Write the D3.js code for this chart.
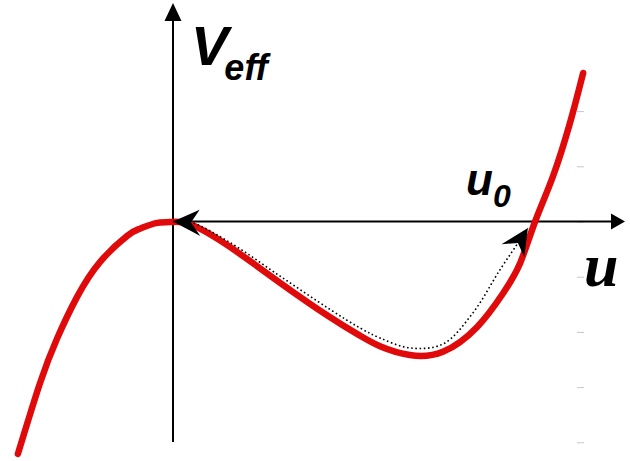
<!DOCTYPE html>
<html>
<head>
<meta charset="utf-8">
<script src="https://cdn.jsdelivr.net/npm/d3@7"></script>
<style>
  html, body { margin: 0; padding: 0; background: #fff; }
  svg { display: block; }
</style>
</head>
<body>
<svg id="chart" width="630" height="461"></svg>
<script>
// Effective potential V_eff(u): sampled points along the curve
const potentialU = [-2.81, -2.41, -2.10, -1.74, -1.32, -0.83, -0.60, -0.31, -0.05,
                    0.31, 1.03, 1.94, 2.84, 3.39, 3.75, 4.29, 4.89, 5.51, 5.98, 6.29, 6.56, 6.88, 7.19, 7.43];
const potentialV = [-4.21, -2.93, -2.12, -1.37, -0.73, -0.26, -0.13, -0.03, -0.01,
                    -0.05, -0.46, -1.11, -1.73, -2.07, -2.26, -2.42, -2.36, -1.91, -1.30, -0.75, 0.00, 0.81, 1.78, 2.69];

// Orbit trajectory between u0 and the origin (dotted)
const orbitU = [0.00, 0.31, 1.03, 1.94, 2.84, 3.39, 3.75, 4.29, 4.89, 5.43, 5.92, 6.29, 6.43];
const orbitV = [0.00, -0.01, -0.38, -0.99, -1.59, -1.93, -2.11, -2.29, -2.22, -1.66, -0.88, -0.33, -0.12];

// Faint reference ticks along the right edge
const tickValues = [-4, -3, -2, -1, 0, 1, 2];

const labelPotential = "V";
const labelPotentialSub = "eff";
const labelTurning = "u";
const labelTurningSub = "0";
const labelAxisU = "u";

const svg = d3.select("#chart");

const x = d3.scaleLinear().domain([-3, 8]).range([7.4, 614.6]);
const y = d3.scaleLinear().domain([-4, 2]).range([442.3, 111.1]);

const x0 = x(0), y0 = y(0);

// faint ticks
const tickAxis = d3.axisRight(y).tickValues(tickValues).tickSize(7).tickFormat("");
const tg = svg.append("g").attr("transform", "translate(577,0)").call(tickAxis);
tg.select(".domain").remove();
tg.selectAll(".tick line").attr("stroke", "#c8c8c8").attr("stroke-width", 1);

// axes
svg.append("line")
  .attr("x1", x0).attr("x2", x0)
  .attr("y1", 442).attr("y2", 18)
  .attr("stroke", "#000").attr("stroke-width", 2);
svg.append("path")
  .attr("d", `M${x0},3 L${x0 + 8.5},21 L${x0 - 8.5},21 Z`)
  .attr("fill", "#000");

svg.append("line")
  .attr("x1", x0).attr("x2", 613)
  .attr("y1", y0).attr("y2", y0)
  .attr("stroke", "#000").attr("stroke-width", 2);
svg.append("path")
  .attr("d", `M625,${y0} L611,${y0 - 8} L611,${y0 + 8} Z`)
  .attr("fill", "#000");

// potential curve
const potential = potentialU.map((u, i) => [u, potentialV[i]]);
const smooth = d3.line().x(d => x(d[0])).y(d => y(d[1])).curve(d3.curveNatural);
const line = d3.line().x(d => x(d[0])).y(d => y(d[1])).curve(d3.curveCatmullRom.alpha(0.5));

svg.append("path")
  .datum(potential)
  .attr("d", smooth)
  .attr("fill", "none")
  .attr("stroke", "#e00a0a")
  .attr("stroke-width", 6.5)
  .attr("stroke-linecap", "round");

// dotted orbit
const orbit = orbitU.map((u, i) => [u, orbitV[i]]);
svg.append("path")
  .datum(orbit)
  .attr("d", line)
  .attr("fill", "none")
  .attr("stroke", "#000")
  .attr("stroke-width", 1.6)
  .attr("stroke-dasharray", "1.6,2.6");

// stealth arrowheads at both ends of the orbit
const headPath = "M0,0 L-28,-13 L-18,0 L-26,13 Z";
function arrowHead(from, to) {
  const px = x(to[0]), py = y(to[1]);
  const ang = Math.atan2(py - y(from[1]), px - x(from[0])) * 180 / Math.PI;
  svg.append("path")
    .attr("d", headPath)
    .attr("transform", `translate(${px},${py}) rotate(${ang})`)
    .attr("fill", "#000");
}
arrowHead([0.4, -0.02], [0, 0]);
arrowHead(orbit[orbit.length - 3], orbit[orbit.length - 1]);

// labels
const vLab = svg.append("text")
  .attr("x", 191).attr("y", 65)
  .attr("font-family", "Liberation Sans, Arial, sans-serif")
  .attr("font-weight", "bold").attr("font-style", "italic")
  .attr("font-size", 56)
  .attr("fill", "#000");
vLab.append("tspan").text(labelPotential);
vLab.append("tspan").attr("font-size", 36).attr("dy", 15).attr("dx", -4).text(labelPotentialSub);

const u0Lab = svg.append("text")
  .attr("x", 466).attr("y", 195)
  .attr("font-family", "Liberation Sans, Arial, sans-serif")
  .attr("font-weight", "bold").attr("font-style", "italic")
  .attr("font-size", 44)
  .attr("fill", "#000");
u0Lab.append("tspan").text(labelTurning);
u0Lab.append("tspan").attr("font-size", 32).attr("dy", 12).attr("dx", 0).text(labelTurningSub);

svg.append("text")
  .attr("x", 584).attr("y", 286)
  .attr("font-family", "Liberation Serif, Times New Roman, serif")
  .attr("font-weight", "bold").attr("font-style", "italic")
  .attr("font-size", 62)
  .attr("fill", "#000")
  .text(labelAxisU);
</script>
</body>
</html>
